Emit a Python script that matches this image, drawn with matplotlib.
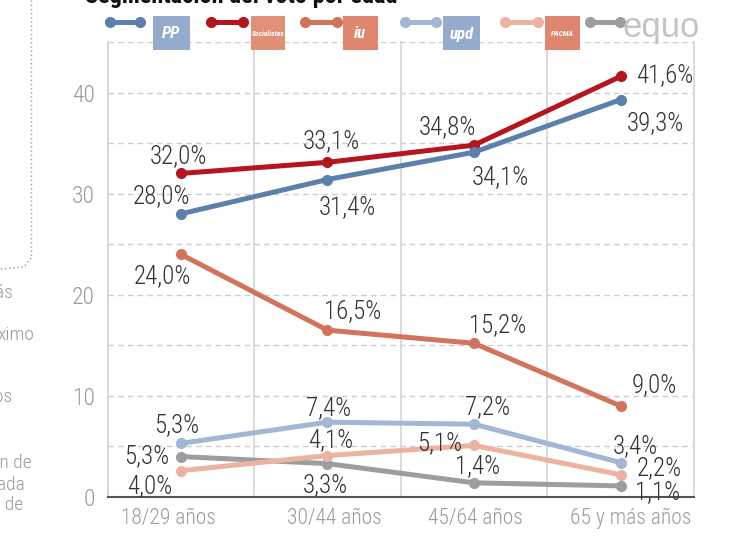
import matplotlib
matplotlib.use("Agg")
import matplotlib.pyplot as plt
import matplotlib.transforms as mtransforms
from matplotlib import font_manager
from matplotlib.lines import Line2D
from matplotlib.patches import Rectangle

# Segmentación del voto por edad
categories = ["18/29 años", "30/44 años", "45/64 años", "65 y más años"]
pp = [28.0, 31.4, 34.1, 39.3]
psoe = [32.0, 33.1, 34.8, 41.6]
iu = [24.0, 16.5, 15.2, 9.0]
upyd = [5.3, 7.4, 7.2, 3.4]
pacma = [2.6, 4.1, 5.1, 2.2]
equo = [4.0, 3.3, 1.4, 1.1]

# labels as printed in the original graphic
pacma_labels = ["4,0%", "4,1%", "5,1%", "2,2%"]
equo_labels = ["5,3%", "3,3%", "1,4%", "1,1%"]


def fmt(v):
    return f"{v:.1f}".replace(".", ",") + "%"


# pick a condensed font if there is one
def pick(names, fallback="Liberation Sans"):
    for name in names:
        try:
            font_manager.findfont(name, fallback_to_default=False)
            return name, True
        except Exception:
            pass
    return fallback, False


font, condensed = pick(["Liberation Sans Narrow", "Roboto Condensed",
                        "Open Sans Condensed"])
plt.rcParams["font.family"] = [font, "DejaVu Sans"]
big = 18 if condensed else 15      # data labels
small = 15.5 if condensed else 13  # x ticks
wt = "light"

W, H = 733, 538
fig = plt.figure(figsize=(W / 100, H / 100), dpi=100)


def fx(x):
    return x / W


def fy(y):
    return 1 - y / H


ax = fig.add_axes([fx(107.5), fy(497), (694 - 107.5) / W, (497 - 42) / H])
ax.set_xlim(-0.5, 3.5)
ax.set_ylim(0, 45)

# grid
for yv in range(5, 50, 5):
    ax.axhline(yv, color="#cccccc", lw=1, ls=(0, (4, 3)), zorder=1)
for xv in [0.5, 1.5, 2.5, 3.5]:
    ax.axvline(xv, color="#d4d4d4", lw=1.2, zorder=1, clip_on=False)

for s in ["top", "right"]:
    ax.spines[s].set_visible(False)
ax.spines["left"].set_color("#d0d0d0")
ax.spines["left"].set_linewidth(1.2)
ax.spines["bottom"].set_color("#555555")
ax.spines["bottom"].set_linewidth(1.5)

ax.set_yticks([0, 10, 20, 30, 40])
ax.set_yticklabels(["0", "10", "20", "30", "40"], fontweight=wt)
ax.tick_params(axis="y", length=0, pad=9, labelsize=17, labelcolor="#9a9a9a")
ax.set_xticks(range(len(categories)))
ax.set_xticklabels(categories, fontweight=wt)
ax.tick_params(axis="x", length=0, pad=8, labelsize=small, labelcolor="#9a9a9a")
# the original labels are not quite centred on the points
for lab, dx in zip(ax.get_xticklabels(), [-12, 7, 1, 10]):
    lab.set_transform(lab.get_transform() +
                      mtransforms.ScaledTranslation(dx / 100, 0, fig.dpi_scale_trans))

x = list(range(len(categories)))
series = [
    (pp, [fmt(v) for v in pp], "#5b80ab", [(-19, 18), (20, -28), (26, -25), (35, -23)]),
    (psoe, [fmt(v) for v in psoe], "#b3161c", [(-2, 17), (4, 21), (-27, 18), (44, 1)]),
    (iu, [fmt(v) for v in iu], "#d2735b", [(-18, -22), (25, 19), (24, 18), (34, 21)]),
    (upyd, [fmt(v) for v in upyd], "#a3b6d6", [(-4, 18), (1, 14), (14, 17), (15, 16)]),
    (pacma, pacma_labels, "#ebb3a0", [(-31, -15), (3, 15), (-34, 2), (39, 7)]),
    (equo, equo_labels, "#9d9da1", [(-34, 0), (-2, -21), (4, 17), (37, -6)]),
]

for vals, labels, col, offs in series[::-1]:
    ax.plot(x, vals, color=col, lw=3.6, marker="o", ms=7, zorder=3,
            solid_capstyle="round")
for vals, labels, col, offs in series:
    for xi, v, lab, off in zip(x, vals, labels, offs):
        ax.annotate(lab, (xi, v), xytext=off, textcoords="offset pixels",
                    ha="center", va="center", fontsize=big, color="#333333",
                    fontweight=wt, zorder=5)

# legend row with logo boxes
legend_items = [
    (110, 140, "#5b80ab", 153, 190, "#8fa7cc", "PP"),
    (211, 243, "#b3161c", 251, 285, "#de8a70", "Socialistas"),
    (305, 337, "#d2735b", 343, 378, "#dd8068", "iu"),
    (405, 436, "#a3b6d6", 443, 480, "#8fa7cc", "upd"),
    (505, 538, "#ebb3a0", 545, 580, "#dd8068", "PACMA"),
]
for x1, x2, lc, b1, b2, bc, txt in legend_items:
    fig.add_artist(Line2D([fx(x1), fx(x2)], [fy(22), fy(22)], color=lc, lw=3.6,
                          marker="o", ms=7, transform=fig.transFigure))
    fig.add_artist(Rectangle((fx(b1), fy(50)), fx(b2 - b1), (50 - 16) / H,
                             facecolor=bc, edgecolor="none", alpha=0.95,
                             transform=fig.transFigure, zorder=4))
    size = 12 if len(txt) <= 3 else 5.5
    fig.text(fx((b1 + b2) / 2), fy(34), txt, color="white", ha="center",
             va="center", fontsize=size, fontweight="bold", style="italic",
             zorder=5)

fig.add_artist(Line2D([fx(590), fx(620)], [fy(22), fy(22)], color="#9d9da1",
                      lw=3.6, marker="o", ms=7, transform=fig.transFigure))
fig.text(fx(623), fy(27), "equo", color="#c4c4c4", fontsize=25,
         family="Liberation Sans", ha="left", va="center")

# title, cut by the top edge
fig.text(fx(85), fy(3), "Segmentación del voto por edad", fontsize=17.5,
         fontweight="bold", color="#111111", ha="left", va="baseline")

# fragments of the side panel
fig.add_artist(Line2D([fx(31), fx(31)], [fy(0), fy(258)], color="#999999",
                      lw=1, ls=(0, (1, 2)), transform=fig.transFigure))
fig.add_artist(Line2D([fx(31), fx(24), fx(0)], [fy(258), fy(267), fy(269)],
                      color="#999999", lw=1, ls=(0, (1, 2)),
                      transform=fig.transFigure))
side = [("ás", 13, 293), ("ximo", 34, 335), ("os", 12, 397),
        ("ón de", 32, 463), ("ada", 25, 485), ("o de", 23, 505)]
for t, xr, yc in side:
    fig.text(fx(xr), fy(yc), t, color="#9a9a9a", fontsize=14, ha="right",
             va="center", fontweight=wt)

fig.savefig("out.png", dpi=100)
